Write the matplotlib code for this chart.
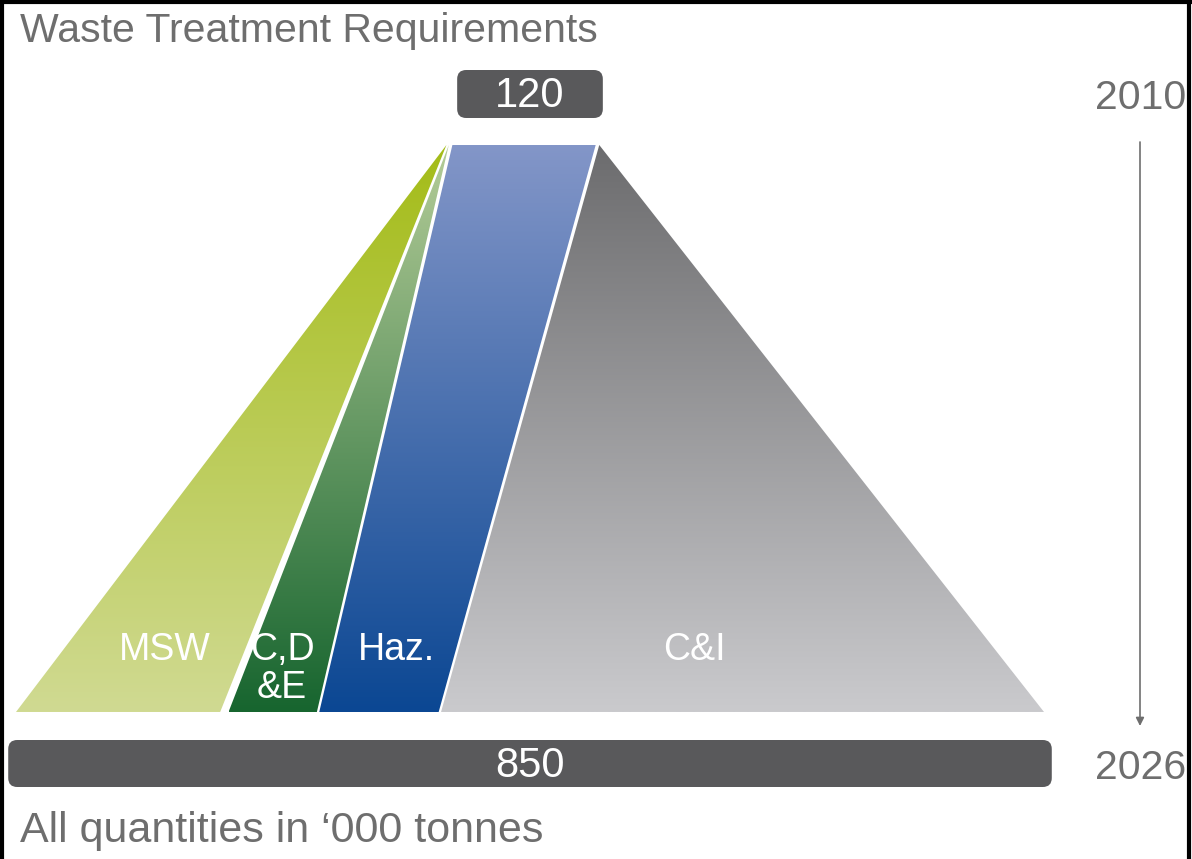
import matplotlib
matplotlib.use('Agg')
import matplotlib.pyplot as plt
import numpy as np
from matplotlib.colors import LinearSegmentedColormap
from matplotlib.patches import Polygon, FancyBboxPatch
from matplotlib.lines import Line2D

plt.rcParams['font.family'] = ['Liberation Sans', 'DejaVu Sans']

# waste streams, quantities in '000 tonnes
streams = ['MSW', 'C,D\n&E', 'Haz.', 'C&I']
years = ['2010', '2026']
qty_2010 = [0, 0, 120, 0]
qty_2026 = [171, 74, 100, 505]
total_2010 = 120
total_2026 = 850

top_colors = ['#a4bc18', '#b4cc98', '#8396c8', '#6c6c6e']
bottom_colors = ['#d0da92', '#17652f', '#0b4793', '#cacacd']

W, H = 1192, 859
PX = 1.194          # pixels per thousand tonnes
CX = 530            # pixel column of the funnel centre

fig = plt.figure(figsize=(W / 100, H / 100), dpi=100)
ax = fig.add_axes([0, 0, 1, 1])
ax.axis('off')

y_top, y_bot = 145, 712
gap_top = [2, 3, 3]
gap_bot = [7, 2, 2]
top_shift = -6


def edges(vals, gaps, shift):
    total = sum(vals) + sum(gaps)
    x = -total / 2 + shift
    out = []
    for i, v in enumerate(vals):
        out.append((x, x + v))
        x += v
        if i < len(gaps):
            x += gaps[i]
    return out


tops = edges(qty_2010, gap_top, top_shift)
bots = edges(qty_2026, gap_bot, 0)

grad = np.linspace(0, 1, 256).reshape(-1, 1)
for i, name in enumerate(streams):
    (tl, tr), (bl, br) = tops[i], bots[i]
    pts = [(tl, y_top), (tr, y_top), (br, y_bot), (bl, y_bot)]
    poly = Polygon(pts, closed=True, facecolor='none', edgecolor='none')
    ax.add_patch(poly)
    cmap = LinearSegmentedColormap.from_list('c%d' % i, [top_colors[i], bottom_colors[i]])
    im = ax.imshow(grad, cmap=cmap, aspect='auto', origin='upper',
                   extent=[min(tl, bl), max(tr, br), y_bot, y_top], zorder=1)
    im.set_clip_path(poly)

# labels inside the segments
label_y = 650
nudge = [11, -10, 2, -32]
for i, name in enumerate(streams):
    (tl, tr), (bl, br) = tops[i], bots[i]
    t = (y_bot - label_y) / (y_bot - y_top)
    xc = ((bl + br) / 2) * (1 - t) + ((tl + tr) / 2) * t + nudge[i] / PX
    lines = name.split('\n')
    for k, line in enumerate(lines):
        ax.text(xc, label_y + 38 * k, line, ha='center', va='center', color='white',
                fontsize=27, zorder=3)

# total boxes
box_col = '#59595b'
r = 9 / PX
ax.add_patch(FancyBboxPatch((-(total_2010 + 2) / 2, 70), total_2010 + 2, 48,
                            boxstyle='round,pad=0,rounding_size=%f' % r,
                            mutation_aspect=PX, fc=box_col, ec='none', zorder=2))
ax.text(0, 96, str(total_2010), ha='center', va='center', color='white', fontsize=30, zorder=3)
ax.add_patch(FancyBboxPatch((-(total_2026 + 24) / 2, 740), total_2026 + 24, 47,
                            boxstyle='round,pad=0,rounding_size=%f' % r,
                            mutation_aspect=PX, fc=box_col, ec='none', zorder=2))
ax.text(0, 766, str(total_2026), ha='center', va='center', color='white', fontsize=30, zorder=3)

# year axis on the right
ax.text((1186 - CX) / PX, 98, years[0], ha='right', va='center', color='#6e6e6e', fontsize=29.5)
ax.text((1186 - CX) / PX, 768, years[1], ha='right', va='center', color='#6e6e6e', fontsize=29.5)
ax.annotate('', xy=((1140 - CX) / PX, 726), xytext=((1140 - CX) / PX, 142),
            arrowprops=dict(arrowstyle='-|>', color='#6e6e6e', lw=1.2,
                            mutation_scale=12, shrinkA=0, shrinkB=0))

ax.set_xlim(-CX / PX, (W - CX) / PX)
ax.set_ylim(H, 0)

fig.text(20 / W, 1 - 31 / H, 'Waste Treatment Requirements', ha='left', va='center',
         color='#6e6e6e', fontsize=29.5)
fig.text(20 / W, 1 - 831 / H, 'All quantities in \u2018000 tonnes', ha='left', va='center',
         color='#6e6e6e', fontsize=31)

# frame around the picture
for xs, ys in [([2, 2], [0, H]), ([0, W], [2, 2]), ([W - 3, W - 3], [0, H])]:
    fig.add_artist(Line2D([x / W for x in xs], [1 - y / H for y in ys],
                          color='black', lw=3, transform=fig.transFigure))

fig.savefig('out.png', dpi=100)
